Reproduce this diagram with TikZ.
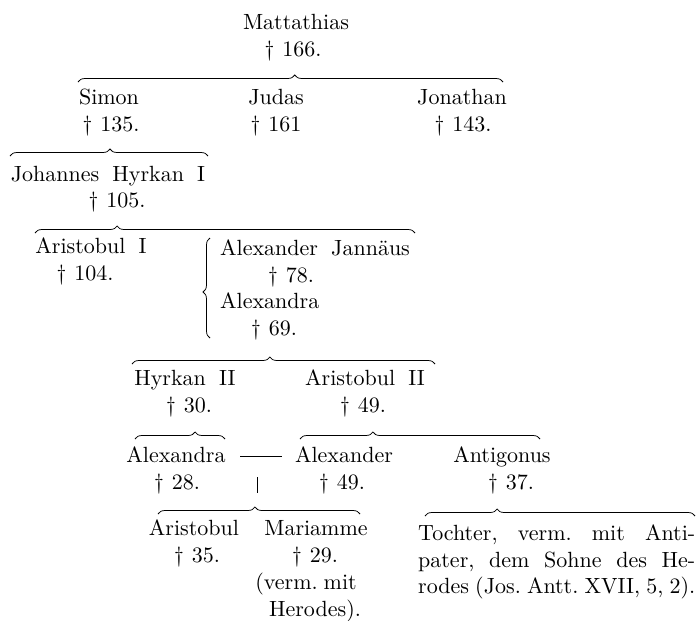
\documentclass[tikz,border=0pt]{standalone}
\usepackage{fontspec}
\setmainfont{lmroman10-regular.otf}[WordSpace=1.8]
\usetikzlibrary{decorations.pathreplacing}
\newcommand\mydag{\textdagger\hspace{8pt}}
\tikzset{
  txt/.style={inner sep=0pt, anchor=base, font=\fontsize{22}{27}\selectfont},
  txtl/.style={txt, anchor=base west},
  br/.style={decorate, decoration={brace, amplitude=7pt, aspect=#1}, line width=0.75pt},
  rule/.style={line width=0.75pt},
}
\begin{document}
\begin{tikzpicture}[x=1pt,y=-1pt]
\useasboundingbox (0,0) rectangle (699,621);
% generation 1
\node[txt] (mat)  at (296,29) {Mattathias};
\node[txt] (matd) at (293,56) {\mydag 166.};
% generation 2
\node[txt] (simon)  at (109,104) {Simon};
\node[txt] (simond) at (111,131) {\mydag 135.};
\node[txt] (judas)  at (276,104) {Judas};
\node[txt] (judasd) at (276,131) {\mydag 161};
\node[txt] (jon)    at (462,104) {Jonathan};
\node[txt] (jond)   at (463,131) {\mydag 143.};
% generation 3
\node[txt] (jh)  at (108,181) {Johannes Hyrkan I};
\node[txt] (jhd) at (117,207) {\mydag 105.};
% generation 4
\node[txt] (ar1)  at (91,253) {Aristobul I};
\node[txt] (ar1d) at (85,280) {\mydag 104.};
\node[txtl] (aj)  at (220,255) {Alexander Jannäus};
\node[txt] (ajd)  at (291,282) {\mydag 78.};
\node[txtl] (ax)  at (220,308) {Alexandra};
\node[txt] (axd)  at (274,335) {\mydag 69.};
% generation 5
\node[txt] (h2)  at (185,385) {Hyrkan II};
\node[txt] (h2d) at (189,412) {\mydag 30.};
\node[txt] (a2)  at (365,385) {Aristobul II};
\node[txt] (a2d) at (363,412) {\mydag 49.};
% generation 6
\node[txt] (ala)  at (176,462) {Alexandra};
\node[txt] (alad) at (177,489) {\mydag 28.};
\node[txt] (alx)  at (344,462) {Alexander};
\node[txt] (alxd) at (342,489) {\mydag 49.};
\node[txt] (ant)  at (502,462) {Antigonus};
\node[txt] (antd) at (511,489) {\mydag 37.};
% generation 7
\node[txt] (ari)  at (194,535) {Aristobul};
\node[txt] (arid) at (197,562) {\mydag 35.};
\node[txt] (mar)  at (316,535) {Mariamme};
\node[txt] (mard) at (315,562) {\mydag 29.};
\node[txt] (mar1) at (306,589) {(verm.\hspace{6pt}mit};
\node[txt] (mar2) at (315,616) {Herodes).};
\node[txtl] (t1) at (418,540) {\hbox to 277pt{Tochter,\hfill verm.\hfill mit\hfill Anti-}};
\node[txtl] (t2) at (418,567) {\hbox to 277pt{pater,\hfill dem\hfill Sohne\hfill des\hfill He-}};
\node[txtl] (t3) at (418,593) {\hbox to 277pt{rodes\hfill (Jos.\hfill Antt.\hfill XVII,\hfill 5,\hfill 2).}};
% brace end points
\coordinate (b1a) at (78,82);  \coordinate (b1b) at (503,82);
\coordinate (b2a) at (10,156); \coordinate (b2b) at (208,156);
\coordinate (b3a) at (35,233); \coordinate (b3b) at (415,233);
\coordinate (b4a) at (132,364); \coordinate (b4b) at (435,364);
\coordinate (b5a) at (135,439); \coordinate (b5b) at (225,439);
\coordinate (b6a) at (300,439); \coordinate (b6b) at (540,439);
\coordinate (b7a) at (158,514); \coordinate (b7b) at (360,514);
\coordinate (b8a) at (425,516); \coordinate (b8b) at (695,516);
\coordinate (lba) at (210,338); \coordinate (lbb) at (210,238);
\coordinate (da) at (240,456); \coordinate (db) at (282,456);
\coordinate (va) at (257,477); \coordinate (vb) at (257,493);
% braces
\draw[br=0.51]  (b1a) -- (b1b);
\draw[br=0.505] (b2a) -- (b2b);
\draw[br=0.216] (b3a) -- (b3b);
\draw[br=0.455] (b4a) -- (b4b);
\draw[br=0.667] (b5a) -- (b5b);
\draw[br=0.304] (b6a) -- (b6b);
\draw[br=0.48]  (b7a) -- (b7b);
\draw[br=0.267] (b8a) -- (b8b);
\draw[br=0.46]  (lba) -- (lbb);
% marriage marks
\draw[rule] (da) -- (db);
\draw[rule] (va) -- (vb);
\end{tikzpicture}
\end{document}
